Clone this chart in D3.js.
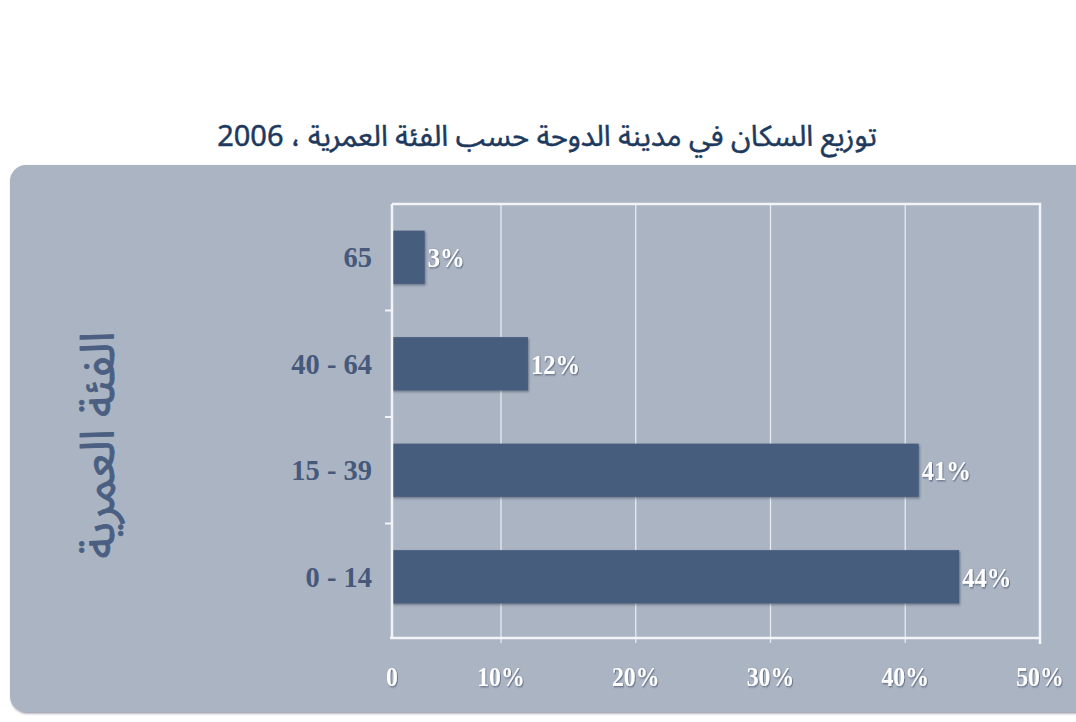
<!DOCTYPE html>
<html>
<head>
<meta charset="utf-8">
<title>Doha population by age group</title>
<script src="https://cdn.jsdelivr.net/npm/d3@7"></script>
<style>
  body { margin: 0; background: #fff; }
  svg { display: block; }
</style>
</head>
<body>
<svg width="1076" height="722" id="mainsvg"></svg>
<script>
// data
const categories = ['65', '40 - 64', '15 - 39', '0 - 14']
const shares = [3, 12, 41, 44]
const xTicks = [0, 10, 20, 30, 40, 50]
const titleText = 'توزيع السكان في مدينة الدوحة حسب الفئة العمرية ، 2006'
const yTitle = 'الفئة العمرية'

const svg = d3.select('#mainsvg')
const width = +svg.attr('width')
const height = +svg.attr('height')
const plot = {left: 392, right: 1040, top: 204, bottom: 638}
const serif = "'Liberation Serif', 'Times New Roman', serif"
const arabic = "'Noto Sans Arabic', 'DejaVu Sans', sans-serif"

const defs = svg.append('defs')
const sh = defs.append('filter').attr('id', 'shadow')
  .attr('x', '-10%').attr('y', '-10%').attr('width', '130%').attr('height', '140%')
sh.append('feDropShadow').attr('dx', 1).attr('dy', 1.5).attr('stdDeviation', 1.2)
  .attr('flood-color', '#3a4559').attr('flood-opacity', 0.55)
const tsh = defs.append('filter').attr('id', 'tshadow')
tsh.append('feDropShadow').attr('dx', 1).attr('dy', 1).attr('stdDeviation', 0.8)
  .attr('flood-color', '#44506a').attr('flood-opacity', 0.8)

// title
svg.append('text')
  .attr('x', 547).attr('y', 146)
  .attr('direction', 'rtl')
  .attr('text-anchor', 'middle')
  .attr('font-family', arabic)
  .attr('font-size', 29)
  .attr('fill', '#1d3a5e')
  .attr('stroke', '#1d3a5e').attr('stroke-width', 0.5)
  .text(titleText)

// grey panel
svg.append('rect')
  .attr('x', 10).attr('y', 165)
  .attr('width', 1090).attr('height', 547)
  .attr('rx', 16)
  .attr('fill', '#aab4c3')
  .attr('filter', 'url(#shadow)')

// scales (the reference's 0-10% interval is drawn narrower than the others)
const x = d3.scaleLinear().domain([0, 10, 50]).range([plot.left, 501, plot.right])
const y = d3.scaleBand().domain(categories).range([plot.top, 630])
  .paddingInner(0.5).paddingOuter(0.25)

const g = svg.append('g')

// gridlines
g.selectAll('line.grid')
  .data(xTicks.slice(1))
  .join('line')
  .attr('class', 'grid')
  .attr('x1', d => x(d)).attr('x2', d => x(d))
  .attr('y1', plot.top).attr('y2', plot.bottom + 5)
  .attr('stroke', '#e6eaf0').attr('stroke-width', 1.3)

// frame top and right
g.append('path')
  .attr('d', `M${plot.left},${plot.top}H${plot.right}V${plot.bottom + 6}`)
  .attr('fill', 'none').attr('stroke', '#f2f4f7').attr('stroke-width', 2.5)

// bars
g.selectAll('rect.bar')
  .data(shares)
  .join('rect')
  .attr('class', 'bar')
  .attr('x', plot.left)
  .attr('y', (d, i) => y(categories[i]))
  .attr('width', d => x(d) - plot.left)
  .attr('height', y.bandwidth())
  .attr('fill', '#475d7d')
  .attr('filter', 'url(#shadow)')

// bar labels (narrow, tall serif like the reference)
g.selectAll('text.val')
  .data(shares)
  .join('text')
  .attr('class', 'val')
  .attr('transform', (d, i) => `translate(${x(d) + 3},${y(categories[i]) + y.bandwidth() / 2 + 10}) scale(0.88,1)`)
  .attr('font-family', serif)
  .attr('font-weight', 'bold')
  .attr('font-size', 28)
  .attr('fill', '#fff')
  .attr('filter', 'url(#tshadow)')
  .text(d => d + '%')

// left axis line and ticks between bands
g.append('line')
  .attr('x1', plot.left).attr('x2', plot.left)
  .attr('y1', plot.top).attr('y2', plot.bottom)
  .attr('stroke', '#f2f4f7').attr('stroke-width', 2.5)
const step = y.step()
g.selectAll('line.ytick')
  .data(categories.slice(1))
  .join('line')
  .attr('class', 'ytick')
  .attr('x1', plot.left - 7).attr('x2', plot.left)
  .attr('y1', d => y(d) - step * y.paddingInner() / 2)
  .attr('y2', d => y(d) - step * y.paddingInner() / 2)
  .attr('stroke', '#f2f4f7').attr('stroke-width', 2)

// bottom axis
g.append('line')
  .attr('x1', plot.left - 2).attr('x2', plot.right)
  .attr('y1', plot.bottom).attr('y2', plot.bottom)
  .attr('stroke', '#f2f4f7').attr('stroke-width', 2.5)

g.selectAll('text.xt')
  .data(xTicks)
  .join('text')
  .attr('class', 'xt')
  .attr('transform', d => `translate(${x(d)},686) scale(0.85,1)`)
  .attr('text-anchor', 'middle')
  .attr('font-family', serif)
  .attr('font-weight', 'bold')
  .attr('font-size', 28)
  .attr('fill', '#fff')
  .attr('filter', 'url(#tshadow)')
  .text(d => d === 0 ? '0' : d + '%')

// category labels
g.selectAll('text.cat')
  .data(categories)
  .join('text')
  .attr('class', 'cat')
  .attr('transform', d => `translate(372,${y(d) + y.bandwidth() / 2 + 10}) scale(0.95,1)`)
  .attr('text-anchor', 'end')
  .attr('font-family', serif)
  .attr('font-weight', 'bold')
  .attr('font-size', 30)
  .attr('fill', '#46597a')
  .text(d => d)

// axis title
svg.append('text')
  .attr('transform', 'translate(114, 445) rotate(-90)')
  .attr('direction', 'rtl')
  .attr('text-anchor', 'middle')
  .attr('font-family', arabic)
  .attr('font-size', 47)
  .attr('fill', '#4a5f82')
  .attr('stroke', '#4a5f82').attr('stroke-width', 0.8)
  .text(yTitle)
</script>
</body>
</html>
